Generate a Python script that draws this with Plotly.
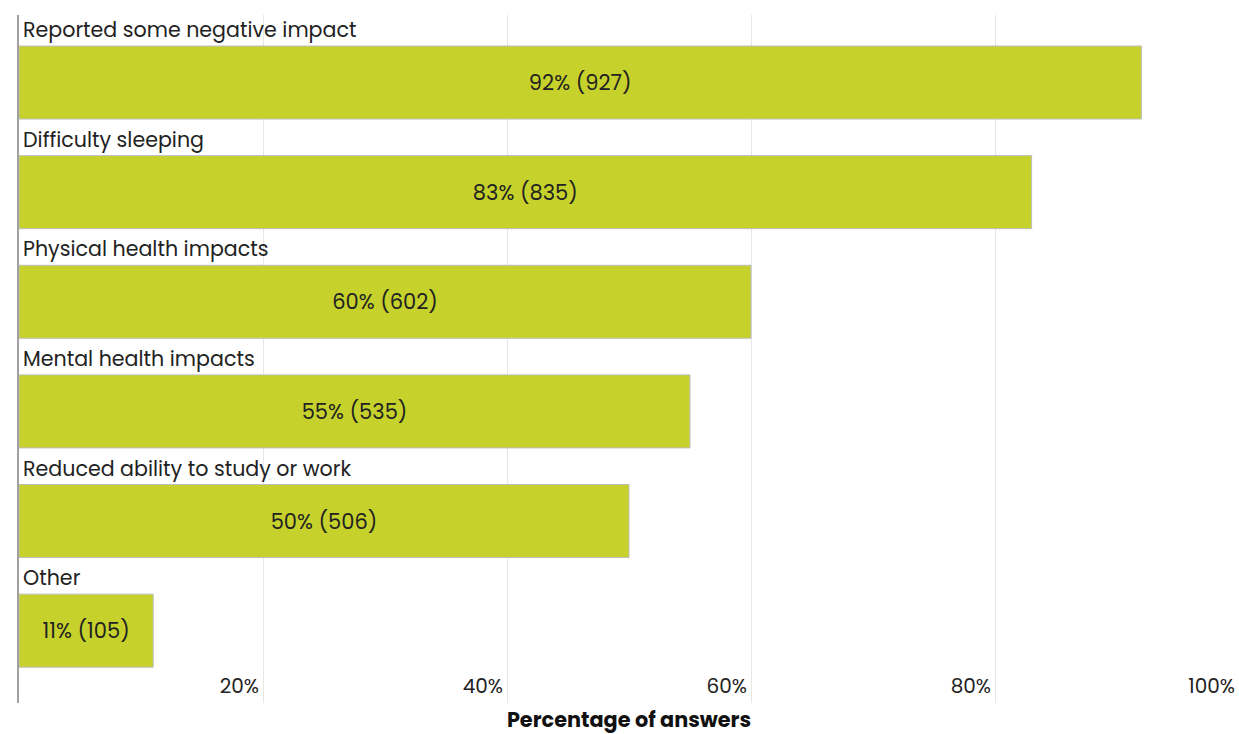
import plotly.graph_objects as go

categories = [
    "Reported some negative impact",
    "Difficulty sleeping",
    "Physical health impacts",
    "Mental health impacts",
    "Reduced ability to study or work",
    "Other",
]
percent = [92, 83, 60, 55, 50, 11]
counts = [927, 835, 602, 535, 506, 105]
tick_values = [20, 40, 60, 80, 100]
tick_labels = ["20%", "40%", "60%", "80%", "100%"]

FONT = "Poppins, Open Sans, sans-serif"
bar_text = [f"{p}% ({c})" for p, c in zip(percent, counts)]

fig = go.Figure(go.Bar(
    y=categories,
    x=percent,
    orientation="h",
    width=0.666,
    marker=dict(color="#C6D22B", line=dict(color="#BDBDBD", width=1)),
    text=bar_text,
    textposition="inside",
    insidetextanchor="middle",
    textangle=0,
    textfont=dict(family=FONT, size=21, color="#222222"),
    hoverinfo="skip",
))

for cat in categories:
    fig.add_annotation(
        x=0, y=cat, xref="x", yref="y", text=cat, showarrow=False,
        xanchor="left", yanchor="middle", xshift=2, yshift=53,
        font=dict(family=FONT, size=20.6, color="#222222"),
    )

fig.update_layout(
    width=1239, height=734,
    margin=dict(l=19, r=0, t=15, b=31),
    plot_bgcolor="white", paper_bgcolor="white",
    showlegend=False,
    font=dict(family=FONT, color="#222222"),
    uniformtext=dict(mode=False),
)
fig.update_xaxes(
    range=[0, 100],
    tickvals=tick_values, ticktext=tick_labels,
    ticklabelposition="inside left",
    ticklabelshift=-4,
    tickfont=dict(family=FONT, size=20, color="#222222"),
    showgrid=True, gridcolor="#E6E6E6", gridwidth=1,
    zeroline=False, showline=False, ticks="",
    title=dict(text="<b>Percentage of answers</b>", font=dict(family=FONT, size=20.8, color="#111111"), standoff=13),
)
fig.update_yaxes(
    categoryorder="array", categoryarray=categories,
    range=[5.66, -0.616],
    showticklabels=False, showgrid=False, zeroline=False,
    showline=True, linecolor="#A0A0A0", linewidth=1.5, ticks="",
)

fig.write_html("out.html")
